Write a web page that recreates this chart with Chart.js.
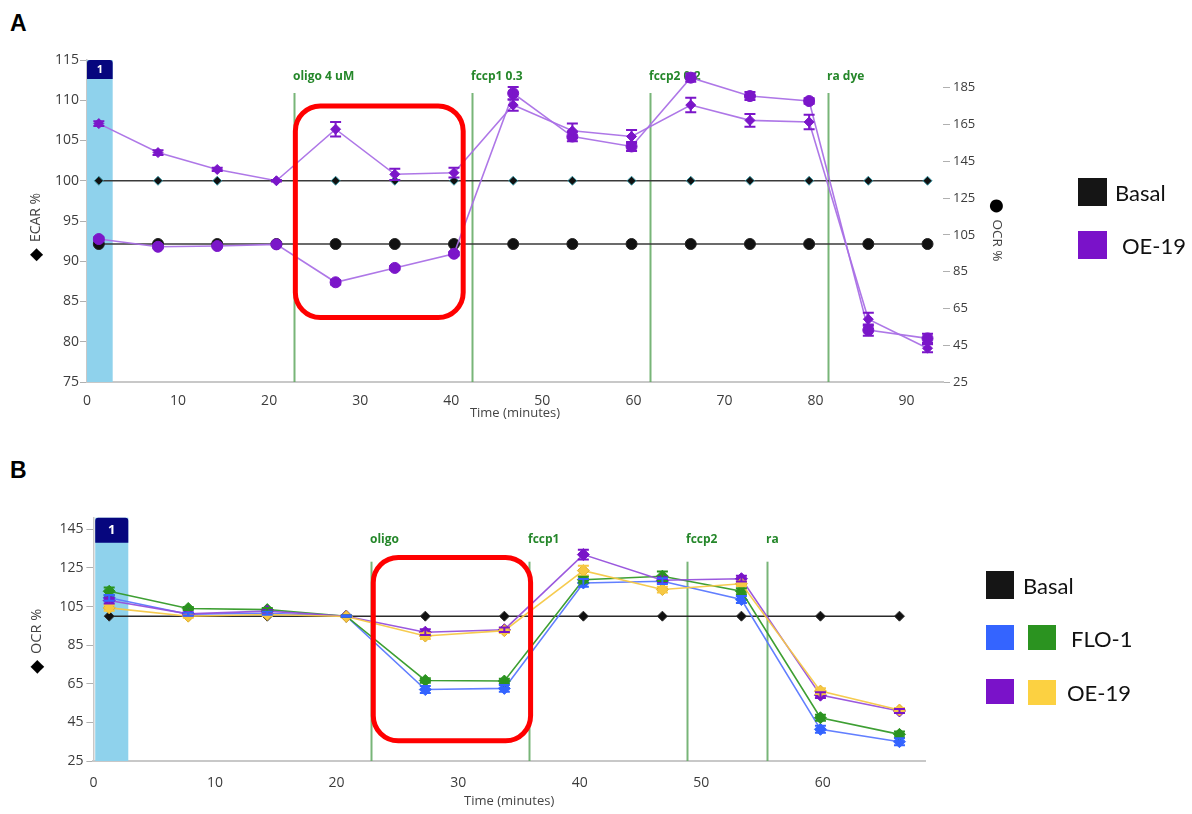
<!DOCTYPE html>
<html>
<head>
<meta charset="utf-8">
<title>Seahorse ECAR / OCR traces</title>
<script src="https://cdn.jsdelivr.net/npm/chart.js@4.4.1/dist/chart.umd.min.js"></script>
<style>
  html, body { margin: 0; padding: 0; background: #ffffff; }
  body { width: 1192px; height: 814px; position: relative; overflow: hidden; font-family: "Open Sans", sans-serif; }
  .panel-letter { position: absolute; font: bold 23px "Liberation Sans", Arial, sans-serif; color: #000; line-height: 1; }
  .wrap { position: absolute; left: 0; width: 1192px; }
  #wrapA { top: 0; height: 440px; }
  #wrapB { top: 470px; height: 344px; }
  .swatch { position: absolute; }
  .legend-text { position: absolute; font: 22px Lato, "Open Sans", sans-serif; color: #111; line-height: 1; transform: translateY(-50%); white-space: nowrap; }
</style>
</head>
<body>
<div class="panel-letter" style="left:10px; top:12px;">A</div>
<div class="panel-letter" style="left:10px; top:459px;">B</div>

<div class="wrap" id="wrapA"><canvas id="chartA" width="1192" height="440"></canvas></div>
<div class="wrap" id="wrapB"><canvas id="chartB" width="1192" height="344"></canvas></div>

<!-- legend, panel A -->
<div class="swatch" style="left:1078px; top:178px; width:29px; height:28px; background:#151515;"></div>
<div class="legend-text" style="left:1115px; top:193px;">Basal</div>
<div class="swatch" style="left:1078px; top:231px; width:29px; height:28px; background:#7a12c9;"></div>
<div class="legend-text" style="left:1122px; top:246px;">OE-19</div>

<!-- legend, panel B -->
<div class="swatch" style="left:986px; top:571px; width:28px; height:28px; background:#151515;"></div>
<div class="legend-text" style="left:1023px; top:586px;">Basal</div>
<div class="swatch" style="left:986px; top:625px; width:28px; height:25px; background:#3464ff;"></div>
<div class="swatch" style="left:1028px; top:625px; width:28px; height:25px; background:#2b9320;"></div>
<div class="legend-text" style="left:1071px; top:639px;">FLO-1</div>
<div class="swatch" style="left:986px; top:679px; width:28px; height:25px; background:#7a12c9;"></div>
<div class="swatch" style="left:1028px; top:680px; width:28px; height:25px; background:#fcd141;"></div>
<div class="legend-text" style="left:1067px; top:693px;">OE-19</div>

<script>
// ---------- Panel A: ECAR (left axis) and OCR (right axis), OE-19 vs basal ----------
const timeA = [1.3, 7.8, 14.3, 20.8, 27.3, 33.8, 40.3, 46.8, 53.3, 59.8, 66.3, 72.8, 79.3, 85.8, 92.3];
const ecarBasalA = [100, 100, 100, 100, 100, 100, 100, 100, 100, 100, 100, 100, 100, 100, 100];
const ocrBasalA  = [100, 100, 100, 100, 100, 100, 100, 100, 100, 100, 100, 100, 100, 100, 100];
const ecarOE19A  = [107.1, 103.5, 101.4, 100.0, 106.4, 100.8, 101.0, 109.4, 106.2, 105.5, 109.4, 107.5, 107.3, 82.8, 79.2];
const ecarErrA   = [0.3, 0.3, 0.2, 0.1, 0.9, 0.7, 0.6, 0.7, 0.9, 0.8, 0.9, 0.8, 0.9, 0.8, 0.5];
const ocrOE19A   = [102.7, 98.5, 98.9, 99.8, 79.2, 87.0, 94.7, 181.9, 158.4, 153.0, 190.4, 180.4, 177.7, 53.2, 48.7];
const ocrErrA    = [1.0, 0.8, 0.6, 0.5, 1.2, 1.0, 1.0, 3.4, 2.5, 2.4, 2.2, 2.2, 1.5, 3.0, 2.5];
const ecarTicksA = [75, 80, 85, 90, 95, 100, 105, 110, 115];
const ocrTicksA  = [25, 45, 65, 85, 105, 125, 145, 165, 185];
const timeTicksA = [0, 10, 20, 30, 40, 50, 60, 70, 80, 90];
const injectionsA = ['oligo 4 uM', 'fccp1 0.3', 'fccp2 0.2', 'ra dye'];
const injectionTimesA = [22.7, 42.3, 61.85, 81.35];
const highlightA = { x: [22.88, 41.31], y: [83.0, 109.3] };

// ---------- Panel B: OCR, FLO-1 and OE-19 vs basal ----------
const timeB = [1.3, 7.8, 14.3, 20.8, 27.3, 33.8, 40.3, 46.8, 53.3, 59.8, 66.3];
const basalB      = [100, 100, 100, 100, 100, 100, 100, 100, 100, 100, 100];
const flo1BlueB   = [109.5, 101.0, 101.5, 100.0, 62.0, 62.6, 117.2, 118.1, 108.6, 41.4, 35.0];
const flo1BlueErr = [1.5, 0.8, 0.8, 0.3, 1.8, 1.8, 2.0, 1.5, 1.8, 1.8, 1.8];
const flo1GreenB  = [112.9, 104.0, 103.4, 100.0, 66.7, 66.4, 118.9, 120.7, 112.9, 47.4, 38.8];
const flo1GreenErr= [2.0, 0.8, 0.8, 0.3, 1.2, 1.2, 1.5, 2.5, 1.5, 1.5, 1.5];
const oe19PurpleB = [108.1, 101.2, 102.6, 100.0, 91.7, 93.0, 131.9, 118.6, 119.4, 59.1, 50.9];
const oe19PurpleErr = [1.5, 0.8, 0.8, 0.3, 1.5, 1.2, 2.5, 1.5, 1.5, 1.5, 1.0];
const oe19YellowB = [104.3, 100.0, 100.9, 99.8, 89.7, 92.5, 123.6, 113.8, 116.8, 61.2, 51.4];
const oe19YellowErr = [1.5, 0.8, 0.8, 0.3, 1.5, 1.2, 2.5, 1.5, 1.2, 1.5, 1.0];
const ocrTicksB  = [25, 45, 65, 85, 105, 125, 145];
const timeTicksB = [0, 10, 20, 30, 40, 50, 60];
const injectionsB = ['oligo', 'fccp1', 'fccp2', 'ra'];
const injectionTimesB = [22.8, 35.85, 48.8, 55.37];
const highlightB = { x: [23.02, 35.96], y: [35.5, 130.4] };

Chart.defaults.font.family = "'Open Sans', sans-serif";
Chart.defaults.color = '#3c3c3c';

function pts(xs, ys) { return xs.map((x, i) => ({ x: x, y: ys[i] })); }
function fixedTicks(values) { return scale => { scale.ticks = values.map(v => ({ value: v })); }; }

function roundedRect(ctx, x, y, w, h, r) {
  ctx.beginPath();
  ctx.moveTo(x + r, y);
  ctx.lineTo(x + w - r, y);
  ctx.arcTo(x + w, y, x + w, y + r, r);
  ctx.lineTo(x + w, y + h - r);
  ctx.arcTo(x + w, y + h, x + w - r, y + h, r);
  ctx.lineTo(x + r, y + h);
  ctx.arcTo(x, y + h, x, y + h - r, r);
  ctx.lineTo(x, y + r);
  ctx.arcTo(x, y, x + r, y, r);
  ctx.closePath();
}

// Measurement window, injection markers, error bars and the highlight frame
const panelDecor = {
  id: 'panelDecor',
  beforeDatasetsDraw(chart, args, o) {
    const { ctx, chartArea: ca, scales } = chart;
    const xs = scales.x;
    ctx.save();
    // first measurement window with its numbered header
    const x0 = xs.getPixelForValue(o.window[0]);
    const x1 = xs.getPixelForValue(o.window[1]);
    ctx.fillStyle = '#8fd2ec';
    ctx.fillRect(x0, ca.top, x1 - x0, ca.bottom - ca.top);
    const r = 3;
    ctx.fillStyle = '#06067e';
    ctx.beginPath();
    ctx.moveTo(x0, ca.top + o.headerH);
    ctx.lineTo(x0, ca.top + r);
    ctx.arcTo(x0, ca.top, x0 + r, ca.top, r);
    ctx.lineTo(x1 - r, ca.top);
    ctx.arcTo(x1, ca.top, x1, ca.top + r, r);
    ctx.lineTo(x1, ca.top + o.headerH);
    ctx.closePath();
    ctx.fill();
    ctx.fillStyle = '#ffffff';
    ctx.font = 'bold ' + o.headerFont + 'px "Open Sans", sans-serif';
    ctx.textAlign = 'center';
    ctx.textBaseline = 'middle';
    ctx.fillText('1', (x0 + x1) / 2, ca.top + o.headerH / 2 + 0.5);
    // injection lines and labels
    o.injectionTimes.forEach((t, i) => {
      const px = Math.round(xs.getPixelForValue(t)) + 0.5;
      ctx.strokeStyle = 'rgba(96,168,96,0.85)';
      ctx.lineWidth = 2;
      ctx.beginPath();
      ctx.moveTo(px, ca.top + o.lineTop);
      ctx.lineTo(px, ca.bottom);
      ctx.stroke();
      ctx.fillStyle = '#25872a';
      ctx.font = 'bold 12px "Open Sans", sans-serif';
      ctx.textAlign = 'left';
      ctx.textBaseline = 'middle';
      ctx.fillText(o.injections[i], px - 1.5, ca.top + o.labelY);
    });
    ctx.restore();
  },
  afterDatasetsDraw(chart, args, o) {
    const { ctx, scales } = chart;
    ctx.save();
    // error bars (mean +/- SEM)
    chart.data.datasets.forEach((ds, i) => {
      if (!ds.errors) return;
      const ys = scales[ds.yAxisID || 'y'];
      const xs = scales.x;
      ctx.strokeStyle = ds.pointBackgroundColor;
      ctx.lineWidth = 2;
      ds.data.forEach((p, j) => {
        const e = ds.errors[j];
        const px = xs.getPixelForValue(p.x);
        const top = ys.getPixelForValue(p.y + e);
        const bot = ys.getPixelForValue(p.y - e);
        ctx.beginPath();
        ctx.moveTo(px, top); ctx.lineTo(px, bot);
        ctx.moveTo(px - 5.5, top); ctx.lineTo(px + 5.5, top);
        ctx.moveTo(px - 5.5, bot); ctx.lineTo(px + 5.5, bot);
        ctx.stroke();
      });
    });
    // highlight frame around the oligomycin response
    const xs = scales.x, ys = scales[o.boxAxis];
    const bx0 = xs.getPixelForValue(o.box.x[0]);
    const bx1 = xs.getPixelForValue(o.box.x[1]);
    const by0 = ys.getPixelForValue(o.box.y[1]);
    const by1 = ys.getPixelForValue(o.box.y[0]);
    ctx.strokeStyle = '#ff0000';
    ctx.lineWidth = 5;
    roundedRect(ctx, bx0, by0, bx1 - bx0, by1 - by0, 25);
    ctx.stroke();
    ctx.restore();
  },
  // rotated y-axis captions: a large black symbol followed by the axis name
  afterDraw(chart, args, o) {
    const { ctx, chartArea: ca } = chart;
    const cy = (ca.top + ca.bottom) / 2;
    ctx.save();
    o.captions.forEach(c => {
      const x = c.side === 'left' ? c.offset : chart.width - c.offset;
      const rot = c.side === 'left' ? -Math.PI / 2 : Math.PI / 2;
      ctx.save();
      ctx.translate(x, cy + c.shift);
      ctx.rotate(rot);
      ctx.textBaseline = 'middle';
      ctx.textAlign = 'left';
      ctx.fillStyle = '#000';
      ctx.font = c.symbolSize + 'px "DejaVu Sans", sans-serif';
      const sw = ctx.measureText(c.symbol).width;
      ctx.font = c.textSize + 'px "Open Sans", sans-serif';
      const tw = ctx.measureText(c.text).width;
      const gap = 6;
      const start = -(sw + gap + tw) / 2;
      ctx.font = c.symbolSize + 'px "DejaVu Sans", sans-serif';
      ctx.fillText(c.symbol, start, 0.5);
      ctx.fillStyle = '#444';
      ctx.font = c.textSize + 'px "Open Sans", sans-serif';
      ctx.fillText(c.text, start + sw + gap, 0);
      ctx.restore();
    });
    ctx.restore();
  }
};

const tickFont = { size: 14 };

// ---------- Chart A ----------
new Chart(document.getElementById('chartA'), {
  type: 'line',
  data: {
    datasets: [
      { label: 'OE-19 ECAR', data: pts(timeA, ecarOE19A), yAxisID: 'y', errors: ecarErrA,
        borderColor: 'rgba(170,112,230,0.95)', borderWidth: 1.6,
        pointStyle: 'rectRot', pointRadius: 5, pointBorderWidth: 1,
        pointBackgroundColor: '#7b16c9', pointBorderColor: '#7b16c9' },
      { label: 'OE-19 OCR', data: pts(timeA, ocrOE19A), yAxisID: 'y1', errors: ocrErrA,
        borderColor: 'rgba(170,112,230,0.95)', borderWidth: 1.6,
        pointStyle: 'circle', pointRadius: 5.5, pointBorderWidth: 1,
        pointBackgroundColor: '#7b16c9', pointBorderColor: '#7b16c9' },
      { label: 'Basal OCR', data: pts(timeA, ocrBasalA), yAxisID: 'y1',
        borderColor: '#3a3a3a', borderWidth: 1.6,
        pointStyle: 'circle', pointRadius: 5.5, pointBorderWidth: 1,
        pointBackgroundColor: '#111111', pointBorderColor: '#222222' },
      { label: 'Basal ECAR', data: pts(timeA, ecarBasalA), yAxisID: 'y',
        borderColor: '#3a3a3a', borderWidth: 1.6,
        pointStyle: 'rectRot', pointRadius: 4.5, pointBorderWidth: 1,
        pointBackgroundColor: '#111111', pointBorderColor: '#3d98a6' }
    ]
  },
  options: {
    responsive: false, animation: false, devicePixelRatio: 1,
    layout: { padding: { top: 60, left: 0, right: 179, bottom: 0 } },
    elements: { line: { tension: 0 } },
    plugins: {
      legend: { display: false }, tooltip: { enabled: false },
      panelDecor: { window: [0, 2.82], headerH: 19, headerFont: 11,
        injections: injectionsA, injectionTimes: injectionTimesA, lineTop: 33, labelY: 16.7,
        box: highlightA, boxAxis: 'y',
        captions: [
          { side: 'left', offset: 36, shift: 6, symbol: '◆', symbolSize: 17, text: 'ECAR %', textSize: 14 },
          { side: 'right', offset: 195, shift: 9, symbol: '●', symbolSize: 17, text: 'OCR %', textSize: 13.5 }
        ] }
    },
    scales: {
      x: { type: 'linear', min: 0, max: 94,
        afterBuildTicks: fixedTicks(timeTicksA),
        afterFit: s => { s.height = 58; },
        grid: { display: false },
        border: { display: true, color: '#c8c8c8', width: 2 },
        ticks: { padding: 3, font: tickFont, color: '#3c3c3c', maxRotation: 0 },
        title: { display: true, text: 'Time (minutes)', font: { size: 13 }, color: '#444', padding: { top: 0, bottom: 19 } } },
      y: { position: 'left', min: 75, max: 115,
        afterBuildTicks: fixedTicks(ecarTicksA),
        afterFit: s => { s.width = 87; },
        grid: { drawOnChartArea: false, tickLength: 7, color: '#b0b0b0' },
        border: { display: true, color: '#c8c8c8', width: 1.5 },
        ticks: { padding: 1, font: tickFont, color: '#3c3c3c' } },
      y1: { position: 'right', min: 25, max: 200,
        afterBuildTicks: fixedTicks(ocrTicksA),
        afterFit: s => { s.width = 70; },
        grid: { drawOnChartArea: false, tickLength: 7, color: '#b0b0b0' },
        border: { display: false },
        ticks: { padding: 3, font: { size: 13 }, color: '#3c3c3c' } }
    }
  },
  plugins: [panelDecor]
});

// ---------- Chart B ----------
new Chart(document.getElementById('chartB'), {
  type: 'line',
  data: {
    datasets: [
      { label: 'OE-19 (yellow)', data: pts(timeB, oe19YellowB), errors: oe19YellowErr,
        borderColor: 'rgba(246,200,70,0.95)', borderWidth: 1.6,
        pointStyle: 'rectRot', pointRadius: 6, pointBorderWidth: 1,
        pointBackgroundColor: '#f7c843', pointBorderColor: '#e0b030' },
      { label: 'OE-19 (purple)', data: pts(timeB, oe19PurpleB), errors: oe19PurpleErr,
        borderColor: 'rgba(150,80,220,0.95)', borderWidth: 1.6,
        pointStyle: 'rectRot', pointRadius: 6, pointBorderWidth: 1,
        pointBackgroundColor: '#7a14c8', pointBorderColor: '#7a14c8' },
      { label: 'FLO-1 (green)', data: pts(timeB, flo1GreenB), errors: flo1GreenErr,
        borderColor: 'rgba(52,154,40,0.95)', borderWidth: 1.6,
        pointStyle: 'rectRot', pointRadius: 6, pointBorderWidth: 1,
        pointBackgroundColor: '#2b9320', pointBorderColor: '#2b9320' },
      { label: 'FLO-1 (blue)', data: pts(timeB, flo1BlueB), errors: flo1BlueErr,
        borderColor: 'rgba(90,120,255,0.95)', borderWidth: 1.6,
        pointStyle: 'rectRot', pointRadius: 6, pointBorderWidth: 1,
        pointBackgroundColor: '#3464ff', pointBorderColor: '#3464ff' },
      { label: 'Basal', data: pts(timeB, basalB),
        borderColor: '#2a2a2a', borderWidth: 1.6,
        pointStyle: 'rectRot', pointRadius: 5, pointBorderWidth: 1,
        pointBackgroundColor: '#111111', pointBorderColor: '#333333' }
    ]
  },
  options: {
    responsive: false, animation: false, devicePixelRatio: 1,
    layout: { padding: { top: 47.7, left: 0, right: 267, bottom: 0 } },
    elements: { line: { tension: 0 } },
    plugins: {
      legend: { display: false }, tooltip: { enabled: false },
      panelDecor: { window: [0.15, 2.87], headerH: 25, headerFont: 13,
        injections: injectionsB, injectionTimes: injectionTimesB, lineTop: 44, labelY: 22.3,
        box: highlightB, boxAxis: 'y',
        captions: [
          { side: 'left', offset: 37, shift: 2, symbol: '◆', symbolSize: 18, text: 'OCR %', textSize: 14.5 }
        ] }
    },
    scales: {
      x: { type: 'linear', min: 0, max: 68.4,
        afterBuildTicks: fixedTicks(timeTicksB),
        afterFit: s => { s.height = 53; },
        grid: { display: false },
        border: { display: true, color: '#c8c8c8', width: 2 },
        ticks: { padding: 5.6, font: tickFont, color: '#3c3c3c', maxRotation: 0 },
        title: { display: true, text: 'Time (minutes)', font: { size: 13 }, color: '#444', padding: { top: 0, bottom: 4.5 } } },
      y: { position: 'left', min: 25, max: 151,
        afterBuildTicks: fixedTicks(ocrTicksB),
        afterFit: s => { s.width = 93.4; },
        grid: { drawOnChartArea: false, tickLength: 7, color: '#b0b0b0' },
        border: { display: true, color: '#c8c8c8', width: 1.5 },
        ticks: { padding: 3, font: tickFont, color: '#3c3c3c' } }
    }
  },
  plugins: [panelDecor]
});
</script>
</body>
</html>
